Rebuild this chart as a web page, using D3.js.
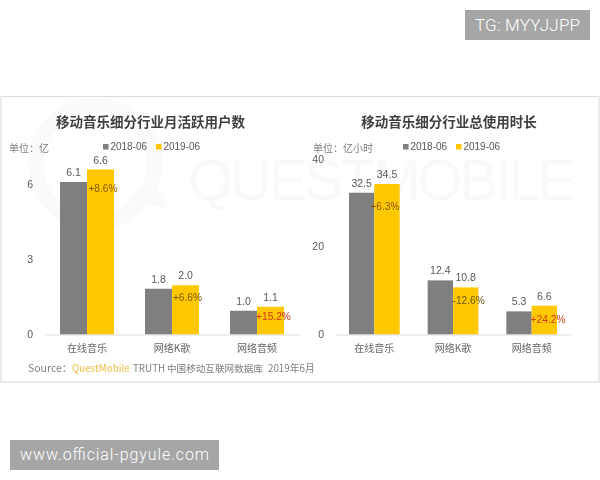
<!DOCTYPE html>
<html><head><meta charset="utf-8">
<script src="https://cdnjs.cloudflare.com/ajax/libs/d3/7.8.5/d3.min.js"></script>
<style>html,body{margin:0;padding:0;background:#fff}svg{display:block}
text{font-family:"Noto Sans CJK SC","Liberation Sans",sans-serif}</style></head><body>
<div id="chart"></div>
<script>
const categories = ["在线音乐", "网络K歌", "网络音频"];
const seriesNames = ["2018-06", "2019-06"];
const leftTitle = "移动音乐细分行业月活跃用户数";
const rightTitle = "移动音乐细分行业总使用时长";
const left2018 = [6.1, 1.83, 0.95];
const left2019 = [6.6, 1.97, 1.11];
const left2018Labels = ["6.1", "1.8", "1.0"];
const left2019Labels = ["6.6", "2.0", "1.1"];
const leftGrowth = ["+8.6%", "+6.6%", "+15.2%"];
const leftTicks = [0, 3, 6];
const right2018 = [32.5, 12.4, 5.3];
const right2019 = [34.5, 10.8, 6.6];
const right2018Labels = ["32.5", "12.4", "5.3"];
const right2019Labels = ["34.5", "10.8", "6.6"];
const rightGrowth = ["+6.3%", "-12.6%", "+24.2%"];
const rightTicks = [0, 20, 40];
const colors = ["#7f7f7f", "#ffc800"];
const growthColors = {left: ["#8a5a00", "#7a5a00", "#d0301c"], right: ["#8a5a00", "#6e5a10", "#d0401c"]};

const svg = d3.select("#chart").append("svg").attr("width", 600).attr("height", 480);
const defs = svg.append("defs");
defs.append("filter").attr("id", "soft").append("feGaussianBlur").attr("stdDeviation", 0.3);
defs.append("clipPath").attr("id", "card").append("rect").attr("x", 1).attr("y", 97).attr("width", 598).attr("height", 285);

svg.append("rect").attr("x", 1).attr("y", 96.5).attr("width", 598).attr("height", 285.5)
  .attr("fill", "#fff").attr("stroke", "#dedede").attr("stroke-width", 1.2);

// watermark
const wm = svg.append("g").attr("clip-path", "url(#card)");
wm.append("circle").attr("cx", 95).attr("cy", 164).attr("r", 59).attr("fill", "none").attr("stroke", "#fafafa").attr("stroke-width", 15);
wm.append("path").attr("d", "M128 200 L167 208 L150 176 Z").attr("fill", "#fafafa");
wm.append("text").attr("x", 188).attr("y", 200).attr("font-size", 58).attr("fill", "#f9f9f9")
  .attr("textLength", 388).attr("lengthAdjust", "spacing").style("font-family", "'Liberation Sans'").text("QUESTMOBILE");

const ink = svg.append("g").attr("filter", "url(#soft)");

function panel(o) {
  const g = ink.append("g");
  const x = d3.scaleBand().domain(o.cats).range(o.xr).paddingInner(o.pad).paddingOuter(o.pad / 2);
  const x1 = d3.scaleBand().domain(seriesNames).range([0, x.bandwidth()]);
  const y = d3.scaleLinear().domain(o.yd).range(o.yr);
  const sets = [o.a, o.b];
  const labels = [o.al, o.bl];

  g.append("text").attr("x", o.titleX).attr("y", 127).attr("text-anchor", "middle")
    .attr("font-size", 13.5).attr("font-weight", 700).attr("fill", "#404040").text(o.title);
  g.append("text").attr("x", o.unitX).attr("y", 152).attr("font-size", 10).attr("fill", "#7f7f7f").text(o.unit);

  seriesNames.forEach((s, i) => {
    g.append("rect").attr("x", o.legX[i]).attr("y", 144).attr("width", 5.5).attr("height", 5.5).attr("fill", colors[i]);
    g.append("text").attr("x", o.legX[i] + 7.4).attr("y", 150).attr("font-size", 10).attr("fill", "#595959")
      .style("font-family", "'Liberation Sans'").text(s);
  });

  sets.forEach((vals, i) => {
    g.selectAll(null).data(vals).join("rect")
      .attr("x", (d, k) => x(o.cats[k]) + x1(seriesNames[i]))
      .attr("y", d => y(d))
      .attr("width", x1.bandwidth())
      .attr("height", d => y(0) - y(d))
      .attr("fill", colors[i]);
    g.selectAll(null).data(vals).join("text")
      .attr("x", (d, k) => x(o.cats[k]) + x1(seriesNames[i]) + x1.bandwidth() / 2)
      .attr("y", d => y(d) - 6)
      .attr("text-anchor", "middle").attr("font-size", 10.5).attr("fill", "#595959")
      .style("font-family", "'Liberation Sans'")
      .text((d, k) => labels[i][k]);
  });

  g.selectAll(null).data(o.b).join("text")
    .attr("x", (d, k) => x(o.cats[k]) + x1(seriesNames[1]) + x1.bandwidth() / 2 + o.gdx[k])
    .attr("y", (d, k) => y(d) + o.gdy[k])
    .attr("text-anchor", "middle").attr("font-size", 10.2)
    .style("font-family", "'Liberation Sans'")
    .attr("fill", (d, k) => o.gc[k])
    .text((d, k) => o.g[k]);

  const ax = d3.axisBottom(x).tickSize(0).tickPadding(10);
  const xg = g.append("g").attr("transform", `translate(0,${o.yr[0]})`).call(ax);
  xg.select(".domain").attr("stroke", "#dddddd");
  xg.selectAll("text").attr("font-size", 10).attr("fill", "#666666");
  const ay = d3.axisLeft(y).tickValues(o.ticks).tickFormat(d3.format("d")).tickSize(0).tickPadding(0);
  const yg = g.append("g").attr("transform", `translate(${o.yx},-0.8)`).call(ay);
  yg.select(".domain").remove();
  yg.selectAll("text").attr("font-size", 10.5).attr("fill", "#595959").attr("text-anchor", "end")
    .style("font-family", "'Liberation Sans'");
}

panel({cats: categories, xr: [44.5, 299.5], pad: 31 / 85, yd: [0, 6], yr: [334.5, 184.5],
  a: left2018, b: left2019, al: left2018Labels, bl: left2019Labels, g: leftGrowth, gc: growthColors.left,
  gdx: [2.5, 2, 3], gdy: [22, 15.7, 13.5],
  ticks: leftTicks, title: leftTitle, titleX: 150.5, unit: "单位：亿", unitX: 9, legX: [103, 156], yx: 33});
panel({cats: categories, xr: [335, 571], pad: 28 / 78.67, yd: [0, 40], yr: [334.5, 160],
  a: right2018, b: right2019, al: right2018Labels, bl: right2019Labels, g: rightGrowth, gc: growthColors.right,
  gdx: [-2, 3, 3.7], gdy: [26, 17, 17],
  ticks: rightTicks, title: rightTitle, titleX: 449, unit: "单位：亿小时", unitX: 313, legX: [403, 456], yx: 324});

const src = ink.append("text").attr("y", 372).attr("font-size", 9.6).attr("fill", "#7f7f7f");
src.append("tspan").attr("x", 28).attr("font-size", 10.5).text("Source：");
src.append("tspan").attr("x", 72).attr("fill", "#f0c860").attr("font-weight", 500).text("QuestMobile");
src.append("tspan").attr("x", 133).attr("font-size", 9.8).text("TRUTH");
src.append("tspan").attr("x", 167).text("中国移动互联网数据库");
src.append("tspan").attr("x", 268).attr("font-size", 9.8).text("2019年6月");

const stamp = {fontFamily: "Roboto", weight: 300};
svg.append("rect").attr("x", 465).attr("y", 10).attr("width", 125).attr("height", 30).attr("fill", "#a6a6a6");
svg.append("text").attr("x", 475).attr("y", 31).attr("font-size", 17).attr("fill", "#fff")
  .attr("textLength", 105).attr("font-weight", stamp.weight).style("font-family", stamp.fontFamily).text("TG: MYYJJPP");
svg.append("rect").attr("x", 10).attr("y", 440).attr("width", 209).attr("height", 30).attr("fill", "#a6a6a6");
svg.append("text").attr("x", 20).attr("y", 460).attr("font-size", 16).attr("fill", "#fff")
  .attr("textLength", 189).attr("font-weight", stamp.weight).style("font-family", stamp.fontFamily).text("www.official-pgyule.com");
</script></body></html>
